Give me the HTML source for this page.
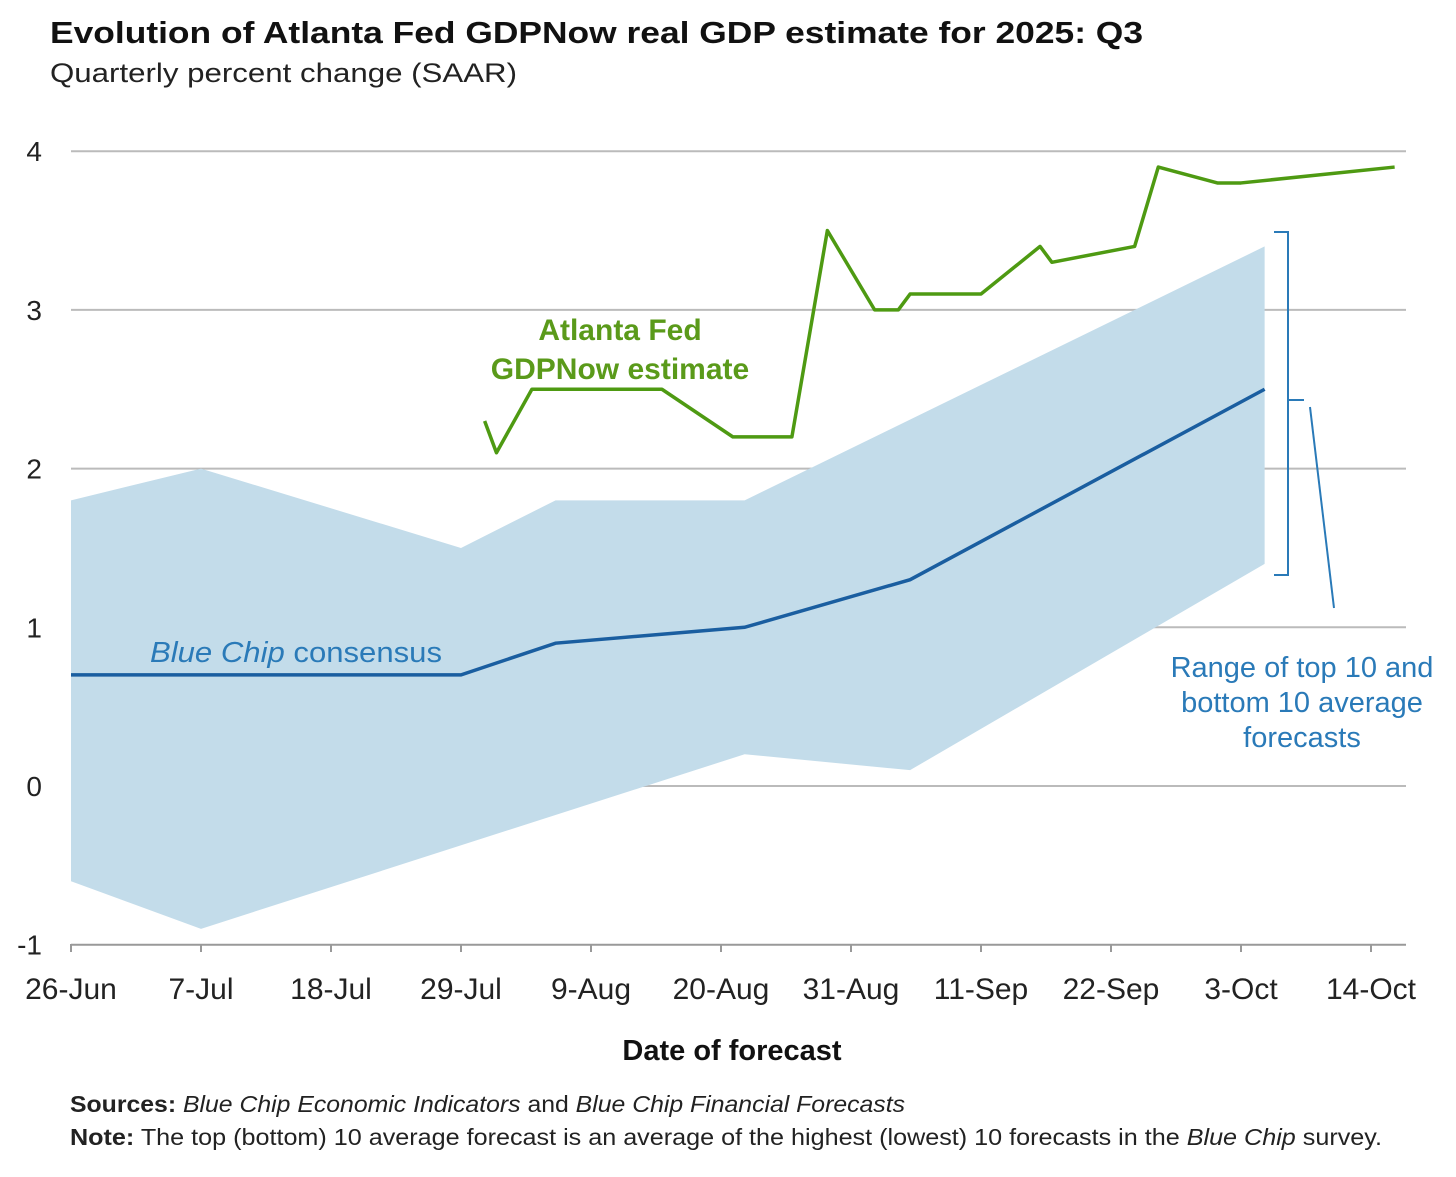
<!DOCTYPE html>
<html><head><meta charset="utf-8"><style>
body{margin:0;background:#fff;font-family:"Liberation Sans",sans-serif;}
svg{display:block}
</style></head><body>
<svg id="chart" width="1456" height="1177">
<text x="50" y="43" font-size="31" font-weight="bold" fill="#111" textLength="1093" lengthAdjust="spacingAndGlyphs">Evolution of Atlanta Fed GDPNow real GDP estimate for 2025: Q3</text>
<text x="50" y="82" font-size="27" fill="#222" textLength="467" lengthAdjust="spacingAndGlyphs">Quarterly percent change (SAAR)</text>
<g id="grid"></g><g id="band"></g><g id="lines"></g><g id="axes"></g>
<text x="620" y="340" font-size="30" font-weight="bold" fill="#5a9a1a" text-anchor="middle">Atlanta Fed</text>
<text x="620" y="379" font-size="30" font-weight="bold" fill="#5a9a1a" text-anchor="middle">GDPNow estimate</text>
<text x="150" y="662" font-size="29" fill="#2a7ab8" textLength="292" lengthAdjust="spacingAndGlyphs"><tspan font-style="italic">Blue Chip</tspan> consensus</text>
<path d="M1274,232 H1288 V575 H1274 M1288,400 H1304" stroke="#2a7ab8" stroke-width="2" fill="none"/>
<line x1="1310" y1="407" x2="1334" y2="608" stroke="#2a7ab8" stroke-width="2"/>
<g font-size="29" fill="#2a7ab8" text-anchor="middle">
<text x="1302" y="677">Range of top 10 and</text><text x="1302" y="712">bottom 10 average</text><text x="1302" y="747">forecasts</text></g>
<text x="732" y="1060" font-size="29" font-weight="bold" fill="#111" text-anchor="middle">Date of forecast</text>
<text x="70" y="1112" font-size="23" fill="#222" textLength="835" lengthAdjust="spacingAndGlyphs"><tspan font-weight="bold">Sources:</tspan> <tspan font-style="italic">Blue Chip Economic Indicators</tspan> and <tspan font-style="italic">Blue Chip Financial Forecasts</tspan></text>
<text x="70" y="1145" font-size="23" fill="#222" textLength="1312" lengthAdjust="spacingAndGlyphs"><tspan font-weight="bold">Note:</tspan> The top (bottom) 10 average forecast is an average of the highest (lowest) 10 forecasts in the <tspan font-style="italic">Blue Chip</tspan> survey.</text>
</svg>
<script>
const xLabels=["26-Jun","7-Jul","18-Jul","29-Jul","9-Aug","20-Aug","31-Aug","11-Sep","22-Sep","3-Oct","14-Oct"];
const yTicks=[4,3,2,1,0,-1];
const gdpDays=[35,36,39,50,56,61,64,68,70,71,77,82,83,90,92,97,99,112];
const gdpVals=[2.3,2.1,2.5,2.5,2.2,2.2,3.5,3.0,3.0,3.1,3.1,3.4,3.3,3.4,3.9,3.8,3.8,3.9];
const consDays=[0,33,41,57,71,101];
const consVals=[0.7,0.7,0.9,1.0,1.3,2.5];
const bandTopDays=[0,11,33,41,57,101];
const bandTopVals=[1.8,2.0,1.5,1.8,1.8,3.4];
const bandBotDays=[0,11,57,71,101];
const bandBotVals=[-0.6,-0.9,0.2,0.1,1.4];
const NS="http://www.w3.org/2000/svg";
const X=d=>71+d*130/11, Y=v=>786-v*158.7;
function mk(t,a,p){const e=document.createElementNS(NS,t);for(const k in a)e.setAttribute(k,a[k]);document.getElementById(p).appendChild(e);return e;}
yTicks.forEach(v=>{
 const l=mk('line',{x1:71,x2:1406,y1:Y(v),y2:Y(v),stroke:v===-1?'#999':'#bbb','stroke-width':2},'grid');
 
 
 const t=mk('text',{x:42,y:Y(v)+10,'font-size':28,'text-anchor':'end',fill:'#222'},'axes');
 t.textContent=v;
 
 
});
xLabels.forEach((s,i)=>{
 const x=X(i*11);
 const tk=mk('line',{x1:x,x2:x,y1:944,y2:952,stroke:'#999','stroke-width':2},'axes');
 
 
 const t=mk('text',{x:x,y:999,'font-size':30,'text-anchor':'middle',fill:'#222'},'axes');
 t.textContent=s;
 
 
});
let pts=bandTopDays.map((d,i)=>X(d)+','+Y(bandTopVals[i]));
for(let i=bandBotDays.length-1;i>=0;i--)pts.push(X(bandBotDays[i])+','+Y(bandBotVals[i]));
const b=mk('polygon',{points:pts.join(' '),fill:'#c3dcea'},'band');


const c=mk('polyline',{points:consDays.map((d,i)=>X(d)+','+Y(consVals[i])).join(' '),fill:'none',stroke:'#1a5ea0','stroke-width':3.5},'lines');


const g=mk('polyline',{points:gdpDays.map((d,i)=>X(d)+','+Y(gdpVals[i])).join(' '),fill:'none',stroke:'#4e9a12','stroke-width':3.5,'stroke-linejoin':'round'},'lines');


</script>
</body></html>
